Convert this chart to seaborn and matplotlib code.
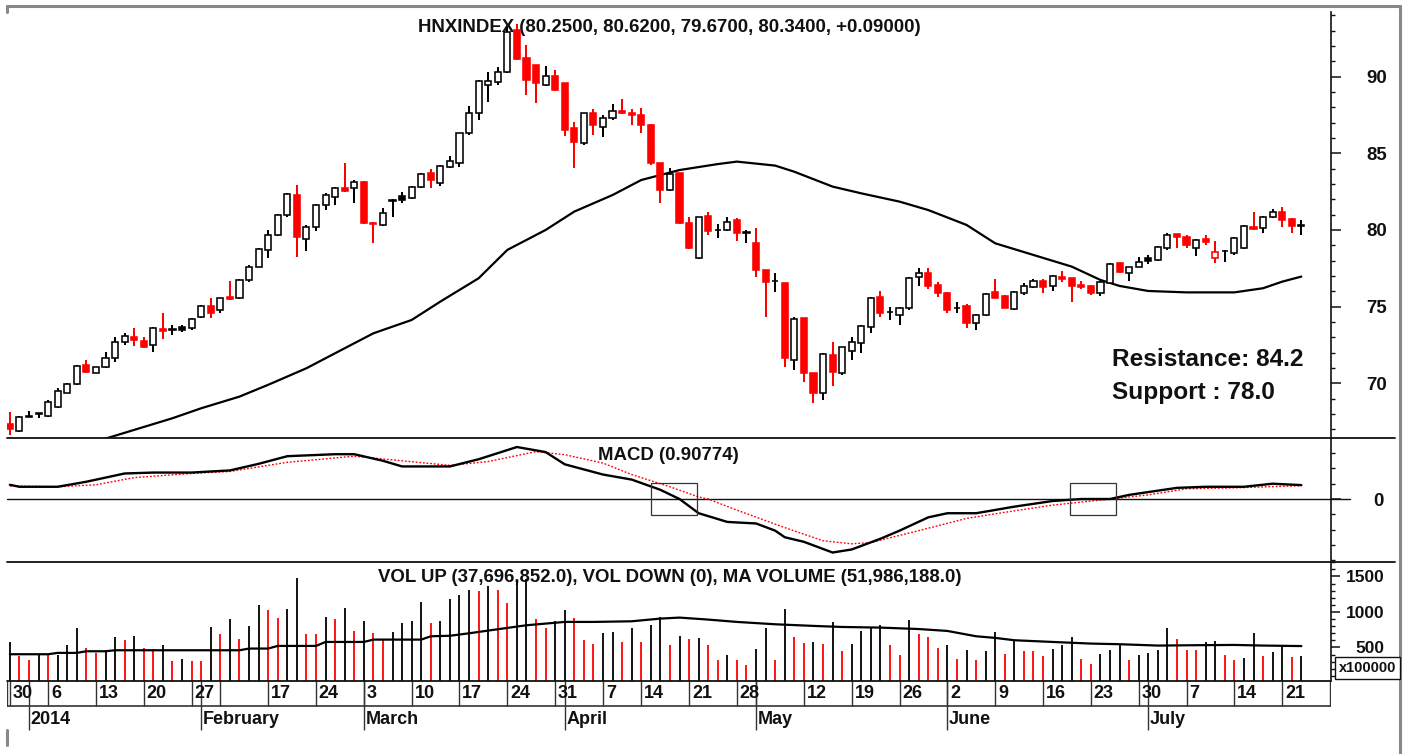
import matplotlib
matplotlib.use("Agg")
import matplotlib.pyplot as plt
from matplotlib.patches import Rectangle
from matplotlib.lines import Line2D
import numpy as np
import seaborn as sns

sns.set_theme(style="white")
plt.rcParams['font.family'] = ['Liberation Sans', 'DejaVu Sans']

# ---- data (index = trading day from 30 Dec 2013) ----
opens = [67.35, 66.91, 67.82, 68.02, 67.87, 68.43, 69.39, 69.96, 71.2, 70.7,
         71.09, 71.63, 72.72, 73.05, 72.78, 72.5, 73.55, 73.52, 73.65, 73.59,
         74.35, 75.02, 74.78, 75.6, 75.54, 76.74, 77.61, 78.7, 79.67, 80.98,
         82.3, 79.39, 80.17, 81.63, 82.17, 82.72, 82.72, 83.15, 80.45, 80.33,
         81.9, 82.22, 82.07, 82.78, 83.74, 83.04, 84.13, 84.39, 86.3, 87.61,
         89.46, 89.67, 90.33, 93.04, 91.2, 90.76, 89.46, 90.04, 89.57, 86.63,
         85.65, 87.65, 86.74, 87.28, 87.76, 87.65, 87.5, 86.85, 84.35, 82.61,
         83.7, 80.48, 78.15, 80.91, 80.02, 80.0, 80.65, 79.89, 79.13, 77.39,
         76.7, 76.52, 71.52, 74.24, 70.65, 69.39, 71.85, 70.65, 72.13, 72.61,
         73.7, 75.65, 74.65, 74.46, 74.89, 76.91, 77.2, 76.41, 75.87, 74.9,
         75.04, 73.91, 74.46, 75.98, 75.7, 74.83, 75.87, 76.26, 76.7, 76.35,
         76.96, 76.85, 76.41, 76.35, 75.91, 76.57, 77.83, 77.22, 77.61, 78.15,
         78.04, 78.8, 79.72, 79.57, 78.8, 79.39, 78.15, 78.63, 78.48, 78.8,
         80.22, 80.11, 80.87, 81.15, 80.7, 80.25]
highs = [68.1, 67.87, 68.2, 68.05, 68.9, 69.67, 70.04, 71.2, 71.52, 71.09,
         72.07, 73.0, 73.3, 73.59, 73.04, 73.7, 74.57, 73.8, 73.8, 74.24,
         75.1, 75.59, 75.59, 76.7, 76.78, 77.72, 78.8, 80.0, 81.02, 82.43,
         82.93, 80.33, 81.7, 82.39, 82.83, 84.35, 83.26, 83.2, 80.54, 81.41,
         82.0, 82.5, 82.87, 83.74, 83.96, 84.24, 84.83, 86.35, 88.09, 89.78,
         90.33, 90.65, 93.26, 93.43, 92.07, 90.76, 90.7, 90.43, 89.57, 87.07,
         87.65, 87.87, 87.5, 88.22, 88.52, 87.87, 87.93, 86.91, 84.39, 84.02,
         83.74, 80.87, 80.87, 81.2, 80.39, 80.87, 80.76, 80.0, 80.1, 77.39,
         77.22, 76.52, 74.35, 74.24, 70.65, 71.96, 72.72, 72.39, 73.0, 73.8,
         75.65, 76.04, 74.96, 75.0, 76.96, 77.5, 77.5, 76.63, 75.98, 75.33,
         75.17, 74.52, 75.91, 76.78, 75.76, 76.02, 76.57, 76.78, 76.78, 77.07,
         77.35, 76.85, 76.7, 76.41, 76.7, 77.83, 77.93, 77.61, 78.22, 78.37,
         78.96, 79.78, 79.72, 79.67, 79.39, 79.67, 79.3, 78.7, 79.52, 80.33,
         81.2, 80.91, 81.35, 81.48, 80.76, 80.62]
lows = [66.6, 66.83, 67.8, 67.72, 67.78, 68.37, 69.35, 69.9, 70.7, 70.65,
        70.98, 71.41, 72.5, 72.43, 72.28, 72.07, 72.87, 73.15, 73.37, 73.48,
        74.24, 74.24, 74.57, 75.45, 75.5, 76.63, 77.57, 78.15, 79.6, 80.87,
        78.26, 78.65, 79.96, 81.3, 81.63, 82.5, 81.78, 80.39, 79.13, 80.28,
        80.87, 81.74, 82.0, 82.72, 82.72, 82.87, 84.02, 84.13, 86.2, 87.17,
        88.37, 89.46, 90.26, 91.09, 88.8, 88.3, 89.39, 89.09, 86.13, 84.02,
        85.54, 86.2, 86.09, 87.17, 87.56, 86.85, 86.3, 84.24, 81.78, 82.57,
        80.39, 78.74, 78.09, 79.67, 79.46, 79.96, 79.3, 79.13, 76.96, 74.35,
        75.98, 71.09, 70.87, 70.11, 68.7, 68.91, 69.83, 70.54, 71.52, 71.96,
        73.26, 74.35, 74.13, 73.8, 74.78, 76.35, 76.13, 75.65, 74.57, 74.57,
        73.59, 73.48, 74.39, 75.59, 74.89, 74.78, 75.74, 76.2, 75.91, 76.04,
        76.63, 75.28, 76.13, 75.76, 75.7, 76.52, 77.22, 76.7, 77.57, 77.78,
        78.0, 78.7, 78.8, 78.8, 78.3, 79.02, 77.83, 77.93, 78.37, 78.74,
        80.0, 79.78, 80.76, 80.22, 79.78, 79.67]
closes = [67.0, 67.83, 67.85, 68.04, 68.8, 69.52, 69.96, 71.15, 70.76, 71.04,
          71.63, 72.72, 73.09, 72.8, 72.39, 73.59, 73.43, 73.46, 73.5, 74.17,
          75.04, 74.57, 75.54, 75.5, 76.74, 77.61, 78.74, 79.67, 80.98, 82.35,
          79.57, 80.22, 81.63, 82.28, 82.76, 82.57, 83.15, 80.43, 80.38, 81.13,
          81.95, 81.98, 82.78, 83.65, 83.26, 84.17, 84.52, 86.3, 87.65, 89.72,
          89.75, 90.33, 92.93, 91.13, 89.78, 89.57, 90.04, 89.13, 86.52, 85.76,
          87.61, 86.85, 87.28, 87.78, 87.61, 87.5, 86.85, 84.35, 82.61, 83.65,
          80.48, 78.8, 80.87, 79.96, 80.0, 80.54, 79.78, 79.8, 77.39, 76.63,
          76.65, 71.63, 74.17, 70.65, 69.35, 71.91, 70.76, 72.35, 72.72, 73.74,
          75.59, 74.57, 74.62, 74.89, 76.85, 77.22, 76.35, 75.87, 74.78, 74.89,
          73.91, 74.46, 75.83, 75.59, 74.89, 75.98, 76.35, 76.7, 76.3, 77.0,
          76.78, 76.35, 76.3, 75.87, 76.63, 77.78, 77.28, 77.57, 77.93, 77.98,
          78.91, 79.67, 79.52, 79.02, 79.35, 79.24, 78.59, 78.66, 79.46, 80.26,
          80.04, 80.87, 81.2, 80.65, 80.25, 80.34]

# moving average of the index
ma_idx = [9, 13, 17, 20, 24, 27, 31, 34, 38, 42, 45, 49, 52, 56, 59, 63, 66, 70, 74,
          76, 80, 82, 86, 89, 93, 96, 100, 103, 107, 111, 114, 116, 119, 123, 128,
          131, 133, 135]
ma_val = [66.2, 66.96, 67.72, 68.37, 69.13, 69.9, 70.98, 71.96, 73.26, 74.13, 75.33,
          76.85, 78.7, 80.0, 81.2, 82.28, 83.26, 83.91, 84.3, 84.46, 84.2, 83.8, 82.83,
          82.39, 81.85, 81.3, 80.33, 79.13, 78.37, 77.61, 76.74, 76.35, 76.02, 75.93,
          75.93, 76.2, 76.63, 76.96]

# MACD and signal
macd_idx = [0, 1, 5, 8, 12, 15, 19, 23, 26, 29, 34, 36, 39, 41, 46, 49, 53, 56, 58, 62,
            65, 68, 70, 72, 75, 78, 80, 81, 83, 86, 88, 91, 93, 96, 98, 101, 105, 109,
            112, 115, 117, 122, 125, 129, 132, 135]
macd_val = [0.93, 0.8, 0.8, 1.13, 1.67, 1.73, 1.73, 1.87, 2.3, 2.8, 2.93, 2.93, 2.5,
            2.13, 2.13, 2.6, 3.4, 3.07, 2.27, 1.6, 1.27, 0.6, 0.0, -0.93, -1.5, -1.6,
            -2.07, -2.5, -2.8, -3.5, -3.3, -2.6, -2.07, -1.2, -0.93, -0.93, -0.5, -0.13,
            0.0, 0.0, 0.27, 0.73, 0.8, 0.8, 1.0, 0.91]
sig_idx = [0, 5, 9, 13, 19, 23, 29, 36, 41, 46, 50, 55, 58, 62, 65, 69, 72, 73, 76, 81,
           85, 88, 90, 95, 100, 104, 109, 114, 119, 123, 128, 135]
sig_val = [0.85, 0.8, 0.93, 1.4, 1.67, 1.8, 2.4, 2.8, 2.5, 2.2, 2.45, 3.1, 2.9, 2.35,
           1.6, 0.8, 0.13, 0.0, -0.73, -1.87, -2.73, -2.93, -2.85, -2.07, -1.27, -0.87,
           -0.4, -0.07, 0.27, 0.67, 0.73, 0.87]
box_spans = [(67.0, 71.8), (110.8, 115.6)]
box_height = 1.05

# volume (x100000)
volumes = [578, 381, 330, 395, 390, 393, 541, 775, 499, 424,
           461, 649, 611, 668, 487, 483, 541, 311, 335, 313,
           310, 789, 686, 907, 625, 804, 1104, 1024, 921, 1047,
           1479, 696, 686, 930, 907, 1061, 733, 874, 705, 602,
           719, 850, 879, 1146, 850, 879, 1188, 1244, 1315, 1296,
           1362, 1315, 1127, 1440, 1460, 907, 780, 874, 1024, 921,
           611, 546, 705, 719, 578, 780, 578, 822, 930, 541,
           663, 625, 630, 532, 320, 396, 320, 250, 480, 775,
           320, 1038, 649, 564, 578, 546, 860, 452, 555, 733,
           775, 822, 541, 391, 893, 696, 649, 499, 532, 335,
           471, 330, 452, 719, 414, 602, 452, 450, 381, 485,
           532, 649, 339, 274, 405, 461, 541, 320, 400, 428,
           471, 780, 625, 471, 469, 578, 592, 391, 330, 358,
           705, 381, 438, 517, 360, 377]
vma_idx = [0, 4, 5, 7, 8, 10, 11, 24, 25, 27, 28, 32, 33, 37, 38, 43, 44, 46, 48, 51,
           54, 58, 61, 65, 68, 70, 73, 76, 80, 84, 87, 91, 95, 98, 101, 103, 105, 109,
           113, 116, 120, 124, 128, 131, 135]
vma_val = [405, 405, 424, 424, 447, 447, 461, 461, 485, 485, 522, 522, 578, 578, 611,
           611, 658, 665, 700, 757, 813, 860, 860, 869, 907, 921, 893, 860, 827, 804,
           789, 780, 760, 733, 658, 635, 602, 578, 555, 546, 527, 532, 536, 527, 520]

# date axis
week_idx = [0, 4, 9, 14, 19, 22, 27, 32, 37, 42, 47, 52, 57, 62, 66, 71, 76, 78, 83, 88,
            93, 98, 103, 108, 113, 118, 123, 128, 133, 138]
week_lbl = ['30', '6', '13', '20', '27', '', '17', '24', '3', '10', '17', '24', '31',
            '7', '14', '21', '28', '', '12', '19', '26', '2', '9', '16', '23', '30',
            '7', '14', '21', '28']
month_idx = [2, 20, 37, 58, 78, 98, 119]
month_lbl = ['2014', 'February', 'March', 'April', 'May', 'June', 'July']

# ---- figure ----
W, H = 1407, 754
fig = plt.figure(figsize=(W / 100, H / 100), dpi=100)
INK = '#111111'


def rect(x0, y0, x1, y1):
    return [x0 / W, 1 - y1 / H, (x1 - x0) / W, (y1 - y0) / H]


def fig_line(x0, y0, x1, y1, **kw):
    fig.add_artist(Line2D([x0 / W, x1 / W], [1 - y0 / H, 1 - y1 / H],
                          transform=fig.transFigure, **kw))


ax_p = fig.add_axes(rect(7, 12, 1331, 438))
ax_m = fig.add_axes(rect(7, 438, 1331, 562))
ax_v = fig.add_axes(rect(7, 562, 1331, 681))
ax_d = fig.add_axes(rect(7, 681, 1331, 740))
XL = (-0.3, 138.1)

for ax in (ax_p, ax_m, ax_v):
    ax.set_xlim(XL)
    ax.set_xticks([])
    ax.set_facecolor('none')
    for s in ('left', 'top', 'bottom'):
        ax.spines[s].set_visible(False)
    ax.spines['right'].set_color(INK)
    ax.spines['right'].set_linewidth(1.2)
    ax.yaxis.tick_right()
    ax.grid(False)

# price panel
x = np.arange(len(closes))
o, h, l, c = map(np.array, (opens, highs, lows, closes))
prev = np.r_[o[0], c[:-1]]
cols = np.where(c < prev, '#ff0000', '#000000')
ax_p.vlines(x, l, h, colors=cols, lw=1.45, zorder=3)
bw = 0.64
for i in x:
    filled = c[i] < o[i]
    ax_p.add_patch(Rectangle((i - bw / 2, min(o[i], c[i])), bw, abs(c[i] - o[i]),
                             facecolor=cols[i] if filled else 'white',
                             edgecolor=cols[i], lw=1.15, zorder=4))
sns.lineplot(x=ma_idx, y=ma_val, ax=ax_p, color='black', lw=1.6, zorder=2)
ax_p.set_ylim(66.43, 94.22)
ax_p.set_yticks([70, 75, 80, 85, 90], ['70', '75', '80', '85', '90'],
                fontweight='bold', ha='right', color=INK)
ax_p.set_yticks(np.arange(67, 95), minor=True)
ax_p.set_ylabel('')
ax_p.tick_params(axis='y', which='major', length=7.2, width=1.1, colors=INK,
                 labelsize=13.4, pad=33)
ax_p.tick_params(axis='y', which='minor', length=3, width=1.0, colors=INK)
ax_p.text(418 / W, 1 - 28 / H, 'HNXINDEX (80.2500, 80.6200, 79.6700, 80.3400, +0.09000)',
          transform=fig.transFigure, fontsize=13.4, fontweight='bold', color=INK,
          va='center', ha='left', zorder=1)
ax_p.text(1112 / W, 1 - 360 / H, 'Resistance: 84.2', transform=fig.transFigure,
          fontsize=17.6, fontweight='bold', color=INK, va='center', ha='left')
ax_p.text(1112 / W, 1 - 392 / H, 'Support : 78.0', transform=fig.transFigure,
          fontsize=17.6, fontweight='bold', color=INK, va='center', ha='left')

# MACD panel
sns.lineplot(x=sig_idx, y=sig_val, ax=ax_m, color='#ff0000', lw=1.0,
             linestyle=(0, (1.3, 1.3)), zorder=2)
sns.lineplot(x=macd_idx, y=macd_val, ax=ax_m, color='black', lw=1.7, zorder=3)
ax_m.plot([XL[0], 140.1], [0, 0], color=INK, lw=1.0, clip_on=False, zorder=1)
for a, b in box_spans:
    ax_m.add_patch(Rectangle((a, -box_height), b - a, 2 * box_height, fill=False,
                             edgecolor='#333333', lw=0.9, zorder=4))
ax_m.set_ylim(-4.12, 3.99)
ax_m.set_yticks([0], ['0'], fontweight='bold', ha='right', color=INK)
ax_m.set_yticks(np.arange(-4, 4), minor=True)
ax_m.set_ylabel('')
ax_m.tick_params(axis='y', which='major', length=7.2, width=1.1, colors=INK,
                 labelsize=13.4, pad=31)
ax_m.tick_params(axis='y', which='minor', length=3, width=1.0, colors=INK)
ax_m.text(598 / W, 1 - 456 / H, 'MACD (0.90774)', transform=fig.transFigure,
          fontsize=13.4, fontweight='bold', color=INK, va='center', ha='left', zorder=5)

# volume panel
v = np.array(volumes)
vprev = np.r_[0, v[:-1]]
vcols = np.where(v < vprev, '#ff0000', '#000000')
ax_v.vlines(x, 0, v, colors=vcols, lw=1.3, zorder=2)
sns.lineplot(x=vma_idx, y=vma_val, ax=ax_v, color='black', lw=1.6, zorder=3)
ax_v.set_ylim(28, 1704)
ax_v.set_yticks([500, 1000, 1500], ['500', '1000', '1500'], fontweight='bold',
                ha='right', color=INK)
ax_v.set_yticks(np.arange(100, 1701, 100), minor=True)
ax_v.set_ylabel('')
ax_v.tick_params(axis='y', which='major', length=6.5, width=1.1, colors=INK,
                 labelsize=12.5, pad=32)
ax_v.tick_params(axis='y', which='minor', length=2.8, width=1.0, colors=INK)
ax_v.text(378 / W, 1 - 578 / H,
          'VOL UP (37,696,852.0), VOL DOWN (0), MA VOLUME (51,986,188.0)',
          transform=fig.transFigure, fontsize=13.4, fontweight='bold', color=INK,
          va='center', ha='left', zorder=1)
fig.text(1339 / W, 1 - 668 / H, 'x100000', fontsize=10.5, fontweight='bold', color=INK,
         va='center', ha='left',
         bbox=dict(boxstyle='square,pad=0.25', fc='white', ec=INK, lw=1.0))

# date axis
ax_d.set_xlim(XL)
ax_d.set_ylim(0, 1)
ax_d.axis('off')
ax_d.vlines(week_idx, 0.576, 1, color='#333333', lw=1.0)
ax_d.vlines(month_idx, 0.17, 1, color='#333333', lw=1.0)
ax_d.vlines([XL[0]], 0.576, 1, color='#333333', lw=1.0)
ax_d.hlines(0.576, XL[0], XL[1], color='#333333', lw=1.2)
for i, t in zip(week_idx, week_lbl):
    ax_d.text(i + 0.3, 0.78, t, fontsize=13, fontweight='bold', color=INK,
              va='center', ha='left', clip_on=True)
for i, t in zip(month_idx, month_lbl):
    ax_d.text(i + 0.15, 0.34, t, fontsize=13, fontweight='bold', color=INK,
              va='center', ha='left')

# separators and frame
fig_line(7, 438, 1395, 438, color=INK, lw=1.3)
fig_line(7, 562, 1395, 562, color=INK, lw=1.3)
fig_line(7, 681, 1331, 681, color=INK, lw=1.3)
fig_line(7, 6, 1400, 6, color='#888888', lw=2.2)
fig_line(1400, 6, 1400, 754, color='#888888', lw=2.2)
fig_line(7, 6, 7, 12, color='#888888', lw=2.2)
fig_line(7, 730, 7, 745, color='#888888', lw=2.2)

fig.savefig('out.png', dpi=100)
